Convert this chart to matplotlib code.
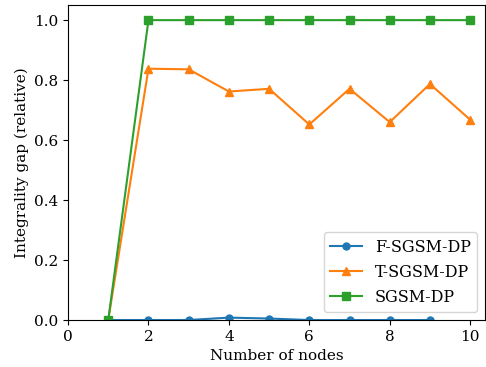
import matplotlib
matplotlib.use("Agg")
import matplotlib.pyplot as plt

plt.rcParams['font.family'] = ['DejaVu Serif']
plt.rcParams['font.size'] = 10.5

nodes = [1, 2, 3, 4, 5, 6, 7, 8, 9, 10]
f_nodes = [1, 2, 3, 4, 5, 6, 7, 8, 9]
f_gap = [0.0, 0.0, 0.0, 0.008, 0.005, 0.0, 0.0, 0.0, 0.0]
t_gap = [0.0, 0.838, 0.836, 0.762, 0.771, 0.652, 0.771, 0.660, 0.787, 0.668]
s_gap = [0.0, 1.0, 1.0, 1.0, 1.0, 1.0, 1.0, 1.0, 1.0, 1.0]

fig = plt.figure(figsize=(4.86, 3.67), dpi=100)
ax = fig.add_axes([0.14, 0.128, 0.858, 0.858])

ax.plot(f_nodes, f_gap, marker='o', color='#1f77b4', label='F-SGSM-DP', markersize=5, linewidth=1.5)
ax.plot(nodes, t_gap, marker='^', color='#ff7f0e', label='T-SGSM-DP', markersize=6, linewidth=1.5)
ax.plot(nodes, s_gap, marker='s', color='#2ca02c', label='SGSM-DP', markersize=5.5, linewidth=1.5)

ax.set_xlim(0, 10.37)
ax.set_ylim(0, 1.05)
ax.set_xticks([0, 2, 4, 6, 8, 10])
ax.set_yticks([0.0, 0.2, 0.4, 0.6, 0.8, 1.0])
ax.tick_params(labelsize=11)
ax.set_xlabel('Number of nodes', fontsize=11)
ax.set_ylabel('Integrality gap (relative)', fontsize=11)
ax.legend(loc='lower right', fontsize=11.5)

fig.savefig('out.png', dpi=100)
